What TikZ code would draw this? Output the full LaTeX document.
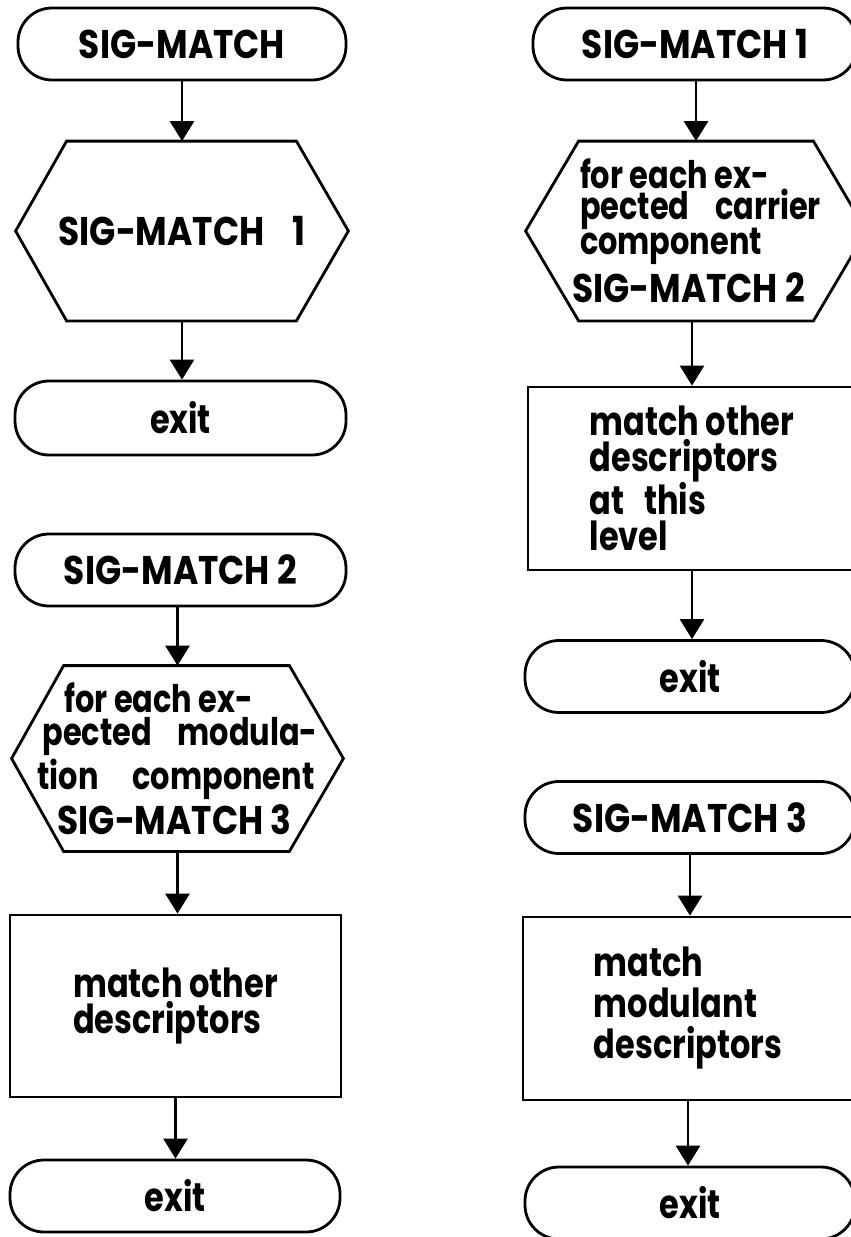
\documentclass[tikz,border=0pt]{standalone}
\usepackage{fontspec}
\setmainfont{Poppins}[FakeStretch=0.86]
\newfontfamily\lcfont{Poppins}[FakeStretch=0.80]
\usetikzlibrary{arrows.meta,calc}
\newcommand\chartfont{\fontsize{40}{36}\selectfont\bfseries}
\newcommand\lctext{\lcfont\fontsize{40}{36}\selectfont\bfseries}
\newcommand\hexlc{\lcfont\fontsize{38}{34}\selectfont\bfseries}
\begin{document}
\begin{tikzpicture}[x=1pt,y=-1pt,line width=2.8pt,
  term/.style={draw,rectangle,rounded corners=34pt,minimum height=72pt,inner sep=0pt,font=\chartfont},
  proc/.style={draw,rectangle,inner sep=0pt,align=left,font=\lctext},
  hexbox/.style={rectangle,inner sep=0pt,align=left,font=\chartfont},
  arr/.style={-{Triangle[width=24pt,length=20pt]}}]
\useasboundingbox (0,0) rectangle (851,1237);
\clip (0,0) rectangle (851,1237);
% ---------- left column ----------
\node[term,minimum width=328pt] (t1) at (182,44) {SIG-MATCH};
\node[hexbox,minimum width=330pt,minimum height=177pt] (h1) at (182,231) {SIG-MATCH\hspace{0.7em}1};
\node[term,minimum width=331pt,minimum height=74pt,font=\lctext] (e1) at (180.5,418) {exit};
\node[term,minimum width=331pt] (t2) at (180.5,570) {SIG-MATCH 2};
\node[hexbox,minimum width=329pt,minimum height=183pt] (h2) at (177.5,758.5)
  {\makebox[280pt][l]{\hexlc\hspace*{27pt}for each ex-}\\[-3pt]%
   \makebox[280pt][l]{\hexlc\hspace*{5pt}pected\hfill modula-}\\[2pt]%
   \makebox[280pt][l]{\hexlc tion\hfill component\hspace*{3pt}}\\[4pt]%
   \makebox[280pt][l]{\hspace*{20pt}SIG-MATCH 3}};
\node[proc,minimum width=331pt,minimum height=182pt] (p2) at (175.5,1006) {match other\\descriptors};
\node[term,minimum width=330pt,font=\lctext] (e2) at (175,1196) {exit};
% ---------- right column ----------
\node[term,minimum width=324pt] (t3) at (695,44) {SIG-MATCH 1};
\node[hexbox,minimum width=338pt,minimum height=177pt] (h3) at (696,231)
  {\makebox[250pt][l]{\hexlc\hspace*{9pt}for each ex-}\\[-5pt]%
   \makebox[250pt][l]{\hexlc\hspace*{9pt}pected\hfill carrier}\\[-3pt]%
   \makebox[250pt][l]{\hexlc\hspace*{9pt}component}\\[8pt]%
   \makebox[250pt][l]{\hspace*{1pt}SIG-MATCH 2}};
\node[proc,minimum width=328pt,minimum height=183pt] (p3) at (692,478.5) {match other\\descriptors\\at\hspace{0.5em}this\\level};
\node[term,minimum width=330pt,font=\lctext] (e3) at (690,676.5) {exit};
\node[term,minimum width=330pt] (t4) at (690,817.5) {SIG-MATCH 3};
\node[proc,minimum width=330pt,minimum height=183pt] (p4) at (688,1008.5) {match\\[5pt]modulant\\[5pt]descriptors};
\node[term,minimum width=330pt,font=\lctext] (e4) at (690,1203) {exit};
% hexagon outlines
\draw ($(h1.north west)+(51,0)$) -- ($(h1.north east)+(-52,0)$) -- (h1.east)
  -- ($(h1.south east)+(-52,0)$) -- ($(h1.south west)+(51,0)$) -- (h1.west) -- cycle;
\draw ($(h2.north west)+(52,0)$) -- ($(h2.north east)+(-54,0)$) -- (h2.east)
  -- ($(h2.south east)+(-54,0)$) -- ($(h2.south west)+(52,0)$) -- (h2.west) -- cycle;
\draw ($(h3.north west)+(53,0)$) -- ($(h3.north east)+(-53,0)$) -- (h3.east)
  -- ($(h3.south east)+(-53,0)$) -- ($(h3.south west)+(53,0)$) -- (h3.west) -- cycle;
% connectors
\draw[arr] (t1.south) -- (t1.south |- h1.north);
\draw[arr] (h1.south) -- (h1.south |- e1.north);
\draw[arr] (t2.south -| h2.north) -- (h2.north);
\draw[arr] (h2.south) -- (h2.south |- p2.north);
\draw[arr] (p2.south) -- (p2.south |- e2.north);
\draw[arr] (t3.south -| h3.north) -- (h3.north);
\draw[arr] (h3.south -| p3.north) -- (p3.north);
\draw[arr] (p3.south) -- (p3.south |- e3.north);
\draw[arr] (t4.south) -- (t4.south |- p4.north);
\draw[arr] (p4.south) -- (p4.south |- e4.north);
\end{tikzpicture}
\end{document}
